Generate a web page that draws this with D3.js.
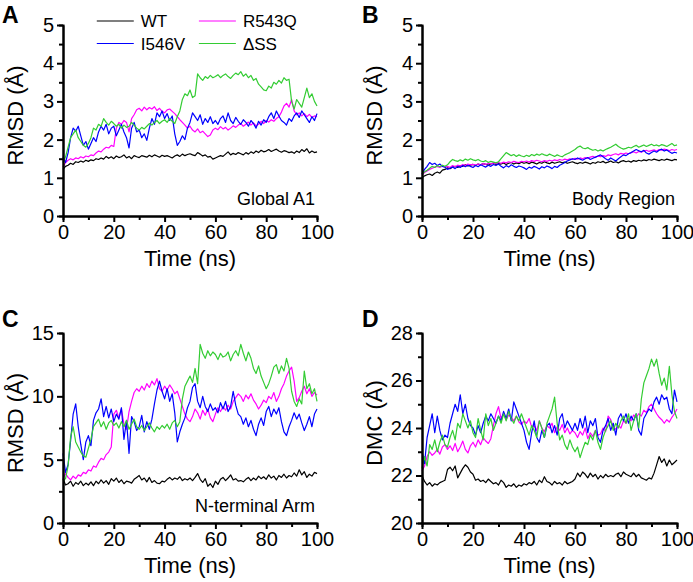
<!DOCTYPE html>
<html>
<head>
<meta charset="utf-8">
<script src="https://cdn.jsdelivr.net/npm/d3@7"></script>
<style>
  body { margin: 0; background: #fff; }
  svg { display: block; font-family: "Liberation Sans", Arial, sans-serif; }
</style>
</head>
<body>
<div class="figure"></div>
<script>
// time axis, 1 ns sampling
const time = d3.range(0, 101);

const seriesNames = ["WT", "R543Q", "I546V", "ΔSS"];
const seriesColors = ["#000000", "#ff00ff", "#0000ff", "#33cc33"];

// Panel A: Global A1 RMSD (Å)
const aWT = [1.22,1.30,1.33,1.38,1.35,1.42,1.40,1.44,1.41,1.46,
  1.43,1.47,1.45,1.50,1.48,1.52,1.49,1.56,1.51,1.55,
  1.50,1.57,1.53,1.55,1.60,1.52,1.56,1.50,1.58,1.55,
  1.53,1.58,1.56,1.54,1.59,1.55,1.60,1.57,1.54,1.59,
  1.56,1.58,1.55,1.52,1.57,1.60,1.56,1.62,1.58,1.61,
  1.63,1.60,1.58,1.66,1.62,1.57,1.60,1.54,1.56,1.49,
  1.52,1.55,1.58,1.56,1.62,1.68,1.60,1.64,1.61,1.66,
  1.63,1.60,1.66,1.62,1.68,1.64,1.70,1.66,1.72,1.68,
  1.70,1.74,1.69,1.72,1.75,1.70,1.67,1.71,1.69,1.66,
  1.68,1.64,1.70,1.66,1.74,1.69,1.76,1.65,1.70,1.66,1.68];
const aR543Q = [1.28,1.40,1.46,1.50,1.47,1.52,1.50,1.55,1.52,1.57,
  1.55,1.60,1.58,1.65,1.70,1.68,1.75,1.80,1.78,1.85,
  1.82,2.30,2.45,2.40,2.50,2.45,2.20,2.55,2.65,2.78,
  2.82,2.75,2.85,2.78,2.84,2.80,2.86,2.76,2.82,2.74,
  2.70,2.78,2.80,2.74,2.68,2.60,2.52,2.45,2.38,2.30,
  2.35,2.25,2.20,2.28,2.18,2.22,2.15,2.08,2.12,2.25,
  2.30,2.26,2.34,2.28,2.32,2.25,2.30,2.36,2.32,2.38,
  2.42,2.35,2.40,2.46,2.38,2.44,2.36,2.40,2.48,2.42,
  2.50,2.46,2.52,2.48,2.55,2.60,2.72,2.88,2.95,2.85,
  3.05,2.75,2.65,2.70,2.62,2.68,2.60,2.66,2.58,2.62,2.60];
const aI546V = [1.55,1.40,1.65,2.05,2.30,2.22,2.35,2.10,1.85,1.95,
  1.75,1.90,2.05,1.95,2.20,2.35,2.25,2.40,2.15,2.30,
  2.35,2.10,2.25,2.40,2.20,2.05,1.78,2.30,2.45,2.20,
  2.25,2.05,2.15,1.98,2.30,2.55,2.40,2.70,2.60,2.75,
  2.55,2.68,2.50,2.62,2.15,1.85,1.95,2.10,2.00,2.30,
  2.45,2.70,2.60,2.50,2.65,2.40,2.55,2.45,2.60,2.42,
  2.50,2.40,2.55,2.62,2.45,2.70,2.50,2.42,2.58,2.48,
  2.40,2.52,2.45,2.35,2.50,2.42,2.30,2.48,2.38,2.52,
  2.45,2.60,2.70,2.55,2.75,2.62,2.50,2.45,2.38,2.55,
  2.48,2.62,2.70,2.58,2.75,2.65,2.55,2.45,2.60,2.50,2.68];
const aDSS = [1.40,1.55,1.80,2.05,2.15,2.25,2.05,1.95,1.85,1.80,
  1.90,2.05,2.30,2.25,2.40,2.35,2.55,2.45,2.38,2.48,
  2.42,2.35,2.40,2.30,2.38,2.32,2.35,2.45,2.38,2.30,
  2.25,2.32,2.28,2.35,2.42,2.38,2.45,2.50,2.42,2.48,
  2.52,2.45,2.55,2.48,2.42,2.60,2.75,3.05,3.20,3.15,
  3.30,3.10,3.15,3.72,3.62,3.55,3.65,3.60,3.68,3.62,
  3.65,3.70,3.62,3.68,3.72,3.65,3.60,3.68,3.74,3.70,
  3.78,3.66,3.72,3.62,3.68,3.55,3.60,3.45,3.38,3.30,
  3.28,3.40,3.35,3.50,3.45,3.55,3.48,3.62,3.55,3.58,
  3.00,2.80,3.05,2.95,2.85,3.10,3.35,3.10,3.20,3.00,2.88];

// Panel B: Body Region RMSD (Å)
const bWT = [1.00,1.05,1.08,1.10,1.06,1.12,1.15,1.12,1.20,1.22,
  1.26,1.24,1.28,1.30,1.27,1.32,1.30,1.34,1.31,1.33,
  1.35,1.32,1.36,1.34,1.37,1.35,1.33,1.36,1.38,1.35,
  1.37,1.36,1.39,1.35,1.38,1.40,1.36,1.39,1.37,1.41,
  1.38,1.40,1.37,1.41,1.39,1.36,1.40,1.38,1.42,1.39,
  1.37,1.41,1.38,1.40,1.42,1.39,1.41,1.38,1.40,1.42,
  1.39,1.37,1.40,1.38,1.41,1.39,1.36,1.40,1.38,1.42,
  1.40,1.43,1.39,1.41,1.44,1.40,1.42,1.39,1.43,1.45,
  1.42,1.44,1.41,1.45,1.43,1.46,1.44,1.47,1.45,1.48,
  1.46,1.49,1.47,1.45,1.48,1.46,1.49,1.47,1.45,1.48,1.47];
const bR543Q = [1.08,1.14,1.18,1.22,1.25,1.28,1.30,1.27,1.31,1.28,
  1.30,1.27,1.32,1.29,1.33,1.31,1.35,1.32,1.36,1.34,
  1.35,1.33,1.36,1.34,1.37,1.35,1.38,1.36,1.39,1.37,
  1.40,1.38,1.41,1.39,1.42,1.40,1.43,1.41,1.40,1.43,
  1.42,1.44,1.41,1.45,1.43,1.46,1.44,1.42,1.45,1.43,
  1.46,1.44,1.47,1.45,1.48,1.46,1.49,1.47,1.50,1.48,
  1.51,1.49,1.52,1.50,1.53,1.51,1.54,1.56,1.53,1.57,
  1.55,1.58,1.56,1.60,1.58,1.61,1.63,1.60,1.64,1.62,
  1.65,1.63,1.66,1.68,1.65,1.69,1.67,1.70,1.72,1.69,
  1.71,1.73,1.70,1.74,1.72,1.75,1.73,1.71,1.74,1.72,1.74];
const bI546V = [1.10,1.22,1.30,1.40,1.35,1.38,1.32,1.36,1.30,1.28,
  1.22,1.25,1.28,1.24,1.30,1.27,1.32,1.29,1.33,1.30,
  1.27,1.32,1.29,1.34,1.31,1.28,1.33,1.30,1.35,1.32,
  1.36,1.30,1.26,1.32,1.28,1.34,1.30,1.27,1.31,1.29,
  1.26,1.22,1.28,1.25,1.30,1.27,1.23,1.29,1.26,1.31,
  1.28,1.24,1.30,1.27,1.33,1.36,1.40,1.44,1.47,1.50,
  1.48,1.52,1.49,1.46,1.50,1.53,1.48,1.51,1.54,1.57,
  1.60,1.55,1.50,1.46,1.52,1.48,1.44,1.50,1.55,1.60,
  1.58,1.63,1.66,1.70,1.74,1.71,1.68,1.72,1.65,1.62,
  1.66,1.70,1.67,1.72,1.75,1.70,1.73,1.68,1.64,1.67,1.65];
const bDSS = [1.10,1.16,1.20,1.25,1.30,1.27,1.32,1.29,1.33,1.30,
  1.34,1.42,1.48,1.45,1.43,1.47,1.44,1.49,1.46,1.50,
  1.47,1.45,1.48,1.44,1.42,1.45,1.40,1.43,1.41,1.39,
  1.42,1.50,1.58,1.66,1.62,1.58,1.61,1.56,1.60,1.57,
  1.55,1.59,1.56,1.61,1.58,1.62,1.59,1.63,1.60,1.58,
  1.62,1.59,1.56,1.60,1.57,1.55,1.60,1.63,1.66,1.70,
  1.74,1.80,1.83,1.78,1.76,1.79,1.75,1.72,1.74,1.70,
  1.73,1.70,1.74,1.77,1.80,1.84,1.88,1.82,1.78,1.75,
  1.77,1.80,1.78,1.82,1.85,1.80,1.83,1.86,1.82,1.85,
  1.88,1.84,1.86,1.83,1.87,1.85,1.82,1.86,1.90,1.84,1.86];

// Panel C: N-terminal Arm RMSD (Å)
const cWT = [3.50,3.00,3.10,3.30,2.90,3.20,3.05,3.30,2.95,3.15,
  3.00,3.25,2.95,3.30,3.10,3.40,3.15,3.35,3.05,3.50,
  3.30,3.55,3.20,3.40,3.10,3.30,3.25,3.15,3.45,3.60,
  3.75,3.40,3.55,3.25,3.60,3.20,3.35,3.15,3.10,3.30,
  3.25,3.45,3.60,3.40,3.55,3.45,3.65,3.35,3.50,3.40,
  3.55,3.35,3.60,3.90,3.45,3.20,3.50,2.90,3.10,2.80,
  3.30,3.05,3.45,3.60,3.35,3.55,3.80,3.40,3.50,3.30,
  3.35,3.25,3.45,3.60,3.35,3.55,3.40,3.70,3.50,3.65,
  3.45,3.80,3.55,3.70,3.40,3.75,3.60,3.85,3.55,3.75,
  3.65,3.95,3.70,4.20,3.80,4.05,3.60,3.85,3.70,4.00,3.90];
const cR543Q = [3.50,3.90,3.60,3.40,3.70,3.50,3.80,3.70,4.00,3.90,
  4.20,4.10,4.50,4.40,4.80,5.10,5.00,5.40,5.60,6.00,
  8.60,8.90,8.30,9.00,7.80,7.40,8.80,9.60,10.30,10.60,
  10.40,10.80,10.50,11.00,10.70,11.20,10.90,11.40,10.60,10.40,
  10.80,10.50,10.90,10.60,10.20,10.40,9.80,9.20,8.60,8.20,
  8.00,8.40,9.00,8.70,8.20,8.90,8.50,9.00,8.30,8.00,
  8.60,9.10,8.80,9.20,8.90,9.30,9.00,9.60,9.90,10.20,
  10.00,9.60,10.10,9.80,10.20,9.70,9.40,9.00,9.30,9.70,
  9.50,10.00,9.80,10.30,9.60,10.00,10.60,11.00,11.60,12.00,
  12.30,11.20,9.60,9.90,10.40,10.80,10.20,10.60,10.00,10.30,10.10];
const cI546V = [5.50,4.00,4.60,6.50,8.60,9.40,7.60,6.20,5.00,6.40,
  6.90,6.10,8.10,8.70,9.00,9.80,8.40,9.20,8.30,9.00,
  8.00,8.60,8.20,9.10,6.60,8.10,5.50,8.40,8.00,7.30,
  7.60,8.50,7.20,8.00,7.40,8.20,9.40,10.50,11.20,10.40,
  9.80,10.60,9.60,10.20,8.70,6.40,7.20,7.80,8.30,9.10,
  9.60,10.70,11.00,9.60,9.10,10.00,9.20,8.80,9.40,8.90,
  9.10,8.70,9.50,9.00,9.60,8.80,9.20,10.40,9.30,8.60,
  8.40,7.80,8.30,7.60,8.10,7.40,6.90,7.80,8.30,7.70,
  8.80,9.20,8.40,9.00,8.60,9.10,8.00,7.20,6.90,7.60,
  8.10,8.70,8.20,8.60,7.90,7.30,7.80,8.40,7.60,8.60,9.00];
const cDSS = [3.30,3.50,4.50,6.80,7.60,6.40,6.00,5.60,5.30,5.20,
  5.90,6.60,7.60,7.90,8.20,7.60,8.00,7.40,7.90,8.10,
  7.70,7.90,7.50,8.00,7.60,8.10,7.40,7.80,8.20,7.60,
  7.40,7.70,7.30,7.60,7.90,7.50,7.20,7.60,7.40,7.70,
  7.50,7.80,7.40,7.90,8.10,7.60,8.00,9.80,10.80,11.20,
  11.60,11.10,12.20,11.00,14.10,13.40,13.00,13.60,13.20,13.50,
  13.30,12.90,13.40,13.10,13.20,13.50,12.80,13.30,13.60,13.20,
  14.10,13.40,12.80,13.50,13.00,12.20,11.80,12.40,11.60,11.10,
  10.60,11.00,11.60,12.30,12.50,11.80,12.40,12.00,13.00,12.20,
  10.40,9.60,9.20,9.80,9.40,12.00,10.60,11.00,10.20,10.60,9.60];

// Panel D: DMC (Å)
const dWT = [22.00,21.75,21.60,21.70,21.55,21.65,21.60,21.70,21.75,21.80,
  22.25,22.35,22.20,22.40,21.90,22.10,22.30,22.45,22.35,22.15,
  22.05,21.80,21.85,21.75,21.80,21.70,21.85,21.75,21.65,21.70,
  21.60,21.80,21.70,21.50,21.60,21.55,21.65,21.50,21.60,21.55,
  21.65,21.60,21.70,21.65,21.75,21.60,21.80,21.70,21.95,21.75,
  21.70,21.60,21.75,21.65,21.70,21.60,21.75,21.65,21.70,21.75,
  21.85,22.10,21.95,22.15,22.05,21.90,22.10,21.95,22.05,21.85,
  22.00,21.90,22.05,21.95,22.00,21.95,22.05,22.10,21.95,22.15,
  22.05,22.00,21.95,22.10,21.95,22.05,21.90,21.85,21.80,21.90,
  21.85,22.10,22.45,22.80,22.55,22.70,22.40,22.65,22.45,22.55,22.65];
const dR543Q = [22.20,22.40,22.80,23.00,22.85,22.95,23.10,22.90,23.20,23.30,
  23.10,23.25,23.05,23.35,23.00,23.20,23.45,23.10,22.95,23.25,
  23.40,23.20,23.50,23.30,23.60,23.45,23.35,23.55,24.10,24.60,
  24.90,24.40,24.60,24.35,24.55,24.45,24.30,24.50,24.25,24.15,
  24.30,24.20,24.40,24.05,24.10,23.90,24.30,24.00,23.85,24.10,
  24.00,24.20,23.80,24.05,23.90,24.15,23.80,24.00,23.75,23.90,
  23.80,23.60,23.85,23.70,24.00,23.55,23.80,23.65,23.90,23.70,
  23.75,24.00,23.85,24.50,24.35,24.05,23.95,24.10,24.00,24.30,
  24.20,24.40,24.30,24.55,24.45,24.60,24.50,24.75,24.65,24.90,
  25.00,24.80,24.60,24.45,24.35,24.20,24.35,24.25,24.45,24.60,24.80];
const dI546V = [23.00,22.50,23.60,24.10,24.60,23.80,24.50,23.90,23.50,23.70,
  23.60,24.20,24.60,25.00,24.70,25.40,24.60,25.00,24.40,24.10,
  24.00,23.70,24.10,23.80,24.20,24.50,24.30,24.60,24.40,24.20,
  24.50,24.30,24.70,24.40,24.80,24.30,25.10,24.80,24.50,24.20,
  23.90,23.40,23.10,23.80,24.30,23.60,23.40,23.90,23.60,24.10,
  24.20,23.80,24.10,23.70,24.40,24.60,24.00,24.30,24.10,23.90,
  24.20,23.90,24.40,24.00,24.50,23.80,24.30,24.10,24.40,23.60,
  23.40,23.90,24.10,24.40,23.90,24.20,23.70,24.40,24.60,24.30,
  24.60,24.20,24.50,24.30,24.60,23.90,23.70,24.40,24.60,24.80,
  24.70,25.10,25.30,25.00,25.40,25.20,25.30,24.80,24.60,25.60,25.10];
const dDSS = [22.30,22.80,22.40,23.30,23.10,23.50,23.00,23.40,23.70,23.30,
  23.20,23.60,23.90,23.50,24.20,24.00,24.60,24.30,24.00,24.30,
  23.80,23.60,24.40,23.90,23.50,24.60,24.10,24.40,23.90,24.20,
  24.50,24.20,24.60,24.30,24.70,24.40,24.20,24.50,24.30,24.60,
  24.30,24.00,23.70,24.10,23.90,23.60,24.30,24.00,23.60,24.20,
  24.50,24.80,25.30,24.20,23.50,23.70,23.30,23.10,23.50,23.20,
  23.00,23.20,22.75,23.10,23.40,23.30,23.70,23.50,23.90,23.40,
  23.10,23.60,23.90,24.10,24.30,23.90,24.20,24.00,24.30,24.50,
  24.20,24.60,23.90,24.30,24.60,24.00,25.20,25.90,26.20,26.50,
  26.90,26.60,26.90,26.30,25.80,26.10,25.60,26.60,25.40,24.70,24.40];

// tick values
const xMajor = [0, 20, 40, 60, 80, 100];
const xMinor = [10, 30, 50, 70, 90];
const rmsdMajor = [0, 1, 2, 3, 4, 5];
const rmsdMinor = [0.5, 1.5, 2.5, 3.5, 4.5];
const armMajor = [0, 5, 10, 15];
const armMinor = [2.5, 7.5, 12.5];
const dmcMajor = [20, 22, 24, 26, 28];
const dmcMinor = [21, 23, 25, 27];

const width = 693, height = 582;
const svg = d3.select(".figure").append("svg")
  .attr("width", width)
  .attr("height", height);
svg.append("rect").attr("width", width).attr("height", height).attr("fill", "#fff");

const panels = [
  { letter: "A", lx: 2, ly: 23, left: 63, top: 25, right: 317, bottom: 216,
    yDomain: [0, 5], yMajor: rmsdMajor, yMinor: rmsdMinor, ylabel: "RMSD (Å)",
    note: "Global A1", series: [aWT, aR543Q, aI546V, aDSS], legend: true },
  { letter: "B", lx: 362, ly: 23, left: 422, top: 25, right: 677, bottom: 216,
    yDomain: [0, 5], yMajor: rmsdMajor, yMinor: rmsdMinor, ylabel: "RMSD (Å)",
    note: "Body Region", series: [bWT, bR543Q, bI546V, bDSS] },
  { letter: "C", lx: 2, ly: 327, left: 63, top: 333, right: 317, bottom: 523,
    yDomain: [0, 15], yMajor: armMajor, yMinor: armMinor, ylabel: "RMSD (Å)",
    note: "N-terminal Arm", series: [cWT, cR543Q, cI546V, cDSS] },
  { letter: "D", lx: 362, ly: 327, left: 422, top: 333, right: 677, bottom: 523,
    yDomain: [20, 28], yMajor: dmcMajor, yMinor: dmcMinor, ylabel: "DMC (Å)",
    note: null, series: [dWT, dR543Q, dI546V, dDSS] }
];

const fmt = d3.format("~g");

panels.forEach(p => {
  const x = d3.scaleLinear().domain([0, 100]).range([p.left, p.right]);
  const y = d3.scaleLinear().domain(p.yDomain).range([p.bottom, p.top]);
  const g = svg.append("g");

  // data lines
  const line = d3.line().x((d, i) => x(time[i])).y(d => y(d));
  g.append("g")
    .selectAll("path")
    .data(p.series)
    .join("path")
    .attr("fill", "none")
    .attr("stroke", (d, i) => seriesColors[i])
    .attr("stroke-width", 1.2)
    .attr("stroke-linejoin", "round")
    .attr("d", line);

  // axes: minor ticks then major ticks with labels
  const styleAxis = sel => {
    sel.selectAll("path, line").attr("stroke", "#000").attr("stroke-width", 2);
    sel.selectAll("text").attr("font-size", 20).attr("fill", "#000")
      .attr("font-family", "Liberation Sans, Arial, sans-serif");
  };
  g.append("g").attr("transform", `translate(0,${p.bottom})`)
    .call(d3.axisBottom(x).tickValues(xMinor).tickSize(4).tickFormat(""))
    .call(styleAxis);
  g.append("g").attr("transform", `translate(0,${p.bottom})`)
    .call(d3.axisBottom(x).tickValues(xMajor).tickFormat(fmt).tickSize(6).tickSizeOuter(0).tickPadding(3))
    .call(styleAxis);
  g.append("g").attr("transform", `translate(${p.left},0)`)
    .call(d3.axisLeft(y).tickValues(p.yMinor).tickSize(4).tickFormat(""))
    .call(styleAxis);
  g.append("g").attr("transform", `translate(${p.left},0)`)
    .call(d3.axisLeft(y).tickValues(p.yMajor).tickFormat(fmt).tickSize(6).tickSizeOuter(0).tickPadding(3))
    .call(styleAxis);

  // axis titles
  g.append("text")
    .attr("x", (p.left + p.right) / 2)
    .attr("y", p.bottom + 50)
    .attr("text-anchor", "middle")
    .attr("font-size", 22)
    .text("Time (ns)");
  g.append("text")
    .attr("transform", `translate(${p.left - 40},${(p.top + p.bottom) / 2 - 5}) rotate(-90)`)
    .attr("text-anchor", "middle")
    .attr("font-size", 22)
    .text(p.ylabel);

  // panel letter
  svg.append("text")
    .attr("x", p.lx).attr("y", p.ly)
    .attr("font-size", 23).attr("font-weight", "bold")
    .text(p.letter);

  // region label
  if (p.note) {
    g.append("text")
      .attr("x", p.right - 2)
      .attr("y", p.bottom - 11)
      .attr("text-anchor", "end")
      .attr("font-size", 18)
      .text(p.note);
  }

  if (p.legend) {
    const cols = [x(13.3), x(53.5)];
    const rows = [21, 43.5];
    const lg = g.append("g");
    seriesNames.forEach((name, i) => {
      const cx = cols[i % 2], cy = rows[Math.floor(i / 2)];
      lg.append("line")
        .attr("x1", cx).attr("x2", cx + 37)
        .attr("y1", cy).attr("y2", cy)
        .attr("stroke", seriesColors[i]).attr("stroke-width", 1.2);
      lg.append("text")
        .attr("x", cx + 44).attr("y", cy)
        .attr("dy", "0.36em")
        .attr("font-size", 17)
        .text(name);
    });
  }
});
</script>
</body>
</html>
